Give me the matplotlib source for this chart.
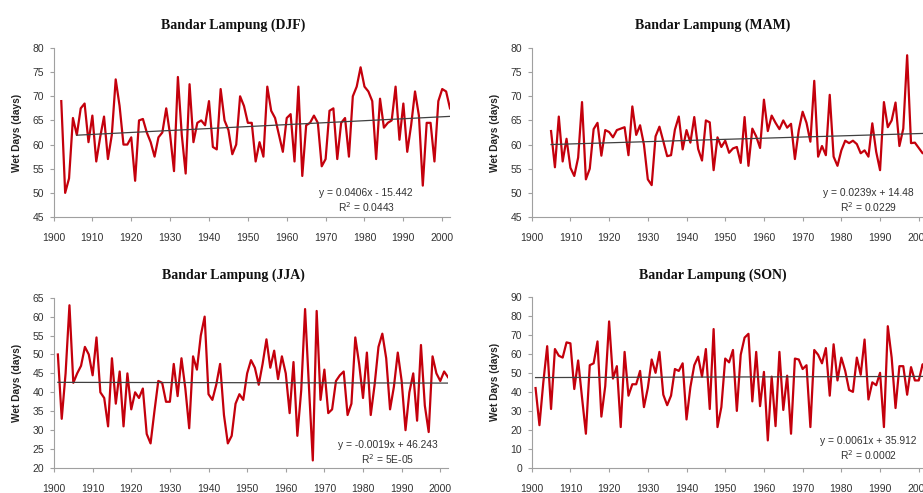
import matplotlib.pyplot as plt
import numpy as np

plt.rcParams.update({'font.family': 'Liberation Sans', 'font.size': 7})

# wet days per season
djf_years = list(range(1902, 2003))
djf_days = [69, 50, 53, 65.5, 62, 67.5, 68.5, 60.5, 66, 56.5,
            61.5, 65.8, 57, 62, 73.5, 68, 60, 60, 61.5, 52.5,
            65, 65.3, 62.5, 60.5, 57.5, 61.5, 62.5, 67.5, 62, 54.5,
            74, 62, 54, 72.5, 60.5, 64.5, 65, 64, 69, 59.5,
            59, 71.5, 65, 63, 58, 60, 70, 68, 64.5, 64.5,
            56.5, 60.5, 57.5, 72, 67, 65.5, 62, 58.5, 65.5, 66.3,
            56.5, 72, 53.5, 64, 64.5, 66, 64.5, 55.5, 57, 67,
            67.5, 57, 64.5, 65.5, 57.5, 70, 72, 76, 72, 71,
            69, 57, 69.5, 63.5, 64.5, 65, 72, 61, 68.5, 58.5,
            64, 71, 66, 51.5, 64.5, 64.5, 56.5, 69, 71.5, 71,
            67.5]

mam_years = list(range(1905, 2003))
mam_days = [62.8, 55.3, 65.8, 56.5, 61.2, 55.2, 53.5, 57.3, 68.8, 52.8,
            55, 63.2, 64.5, 57.7, 63, 62.6, 61.5, 63, 63.3, 63.6,
            57.8, 67.9, 62, 64, 60, 52.8, 51.6, 61.7, 63.7, 60.7,
            57.6, 57.8, 63.1, 65.8, 59, 63, 60.4, 65.7, 59.1, 56.7,
            65, 64.6, 54.7, 61.5, 59.5, 60.8, 58.3, 59.2, 59.5, 56.2,
            65.7, 55.6, 63.3, 61.7, 59.3, 69.3, 62.8, 66, 64.5, 63.2,
            65, 63.5, 64.3, 57, 63, 66.8, 64.5, 60.6, 73.2, 57.5,
            59.7, 57.8, 70.3, 57.5, 55.6, 58.8, 60.8, 60.3, 60.8, 60.1,
            58.2, 58.8, 57.5, 64.4, 58.5, 54.7, 68.8, 63.6, 65, 68.7,
            59.7, 63.3, 78.5, 60.3, 60.4, 59.3, 58.2, 58.5]

jja_years = list(range(1901, 2003))
jja_days = [50, 33, 45, 63, 42.5, 45, 47, 52, 50, 44.5,
            54.5, 40, 38.5, 31, 49, 37, 45.5, 31, 45, 35.5,
            40, 38.5, 41, 29, 26.5, 35, 43, 42.5, 37.5, 37.5,
            47.5, 39, 49, 41, 30.5, 49.5, 46, 55, 60, 39.5,
            38, 42, 47.5, 34, 26.5, 28.5, 37, 39.5, 38, 45,
            48.5, 46.5, 42, 47.5, 54, 46.5, 51, 43.5, 49.5, 45,
            34.5, 48, 28.5, 40.5, 62, 41.5, 22, 61.5, 38, 46,
            34.5, 35.5, 43, 44.5, 45.5, 34, 37, 54.5, 47.5, 38.5,
            50.5, 34, 42, 52, 55.5, 49, 35.5, 41.5, 50.5, 43,
            30, 40, 45, 32.5, 52.5, 36.5, 29.5, 49.5, 45, 43,
            45.5, 44]

son_years = list(range(1901, 2003))
son_days = [42, 22.5, 45, 64, 31, 62.5, 59, 58, 66, 65.5,
            41.5, 56.5, 37, 18, 54, 55, 66.5, 27, 43, 77,
            47, 53.5, 21.5, 61, 38, 44, 44, 51, 32, 42,
            57, 50, 61, 38.5, 33, 38, 52, 51, 55, 25.5,
            42.5, 54, 58.5, 48, 62.5, 31, 73, 21.5, 32, 57.5,
            55.5, 62, 30, 59.5, 68.5, 70.5, 35, 61, 32.5, 50.5,
            14.5, 48, 22, 61, 30.5, 48.5, 18, 57.5, 57, 52,
            54, 21.5, 62, 59.5, 55, 63, 38, 65, 46, 58,
            51, 41, 40, 58, 49, 67.5, 36, 45, 43.5, 50,
            21.5, 74.5, 58, 31.5, 53.5, 53.5, 38.5, 53, 46, 46,
            54.5, 50]

titles = ["Bandar Lampung (DJF)", "Bandar Lampung (MAM)",
          "Bandar Lampung (JJA)", "Bandar Lampung (SON)"]
slopes = [0.0406, 0.0239, -0.0019, 0.0061]
intercepts = [-15.442, 14.48, 46.243, 35.912]
eq_labels = ["y = 0.0406x - 15.442", "y = 0.0239x + 14.48",
             "y = -0.0019x + 46.243", "y = 0.0061x + 35.912"]
r2_labels = ["R$^2$ = 0.0443", "R$^2$ = 0.0229", "R$^2$ = 5E-05", "R$^2$ = 0.0002"]
trend_start = [1906, 1905, 1901, 1901]
ylims = [(45, 80), (45, 80), (20, 65), (0, 90)]
ysteps = [5, 5, 5, 10]

W, H = 923, 493
fig = plt.figure(figsize=(W / 100, H / 100), dpi=100)


def px_axes(x0, ytop, x1, ybot):
    return fig.add_axes([x0 / W, 1 - ybot / H, (x1 - x0) / W, (ybot - ytop) / H])


# pixel boxes: left, top, right, bottom
boxes = [(53.5, 48, 450, 217), (531.7, 48, 926.5, 217),
         (54, 297.7, 448, 468), (531.7, 296.7, 926.5, 468)]
title_pos = [(233, 25), (713, 25), (233, 275), (713, 275)]
eq_pos = [(366, 193, 207), (868, 193, 207), (388, 445, 459), (868, 441, 455)]
ylab_x = [17, 495, 17, 495]

series = [(djf_years, djf_days), (mam_years, mam_days),
          (jja_years, jja_days), (son_years, son_days)]

for i, (yrs, vals) in enumerate(series):
    ax = px_axes(*boxes[i])
    ax.plot(yrs, vals, color='#c4000c', lw=1.6, zorder=3)
    tx = np.array([trend_start[i], yrs[-1]])
    ax.plot(tx, slopes[i] * tx + intercepts[i], color='#404040', lw=0.9, zorder=4)

    ax.set_xlim(1900, 2002)
    ax.set_ylim(*ylims[i])
    ax.set_xticks(range(1900, 2001, 10))
    ax.set_yticks(np.arange(ylims[i][0], ylims[i][1] + 1, ysteps[i]))
    for s in ['top', 'right']:
        ax.spines[s].set_visible(False)
    for s in ['left', 'bottom']:
        ax.spines[s].set_color('#a0a0a0')
        ax.spines[s].set_linewidth(0.8)
    ax.tick_params(colors='#a0a0a0', labelcolor='#333333', length=3,
                   width=0.8, labelsize=7.5)
    ax.tick_params(axis='x', pad=8.5)
    ax.tick_params(axis='y', pad=4)
    ax.patch.set_alpha(0)

    fig.text(title_pos[i][0] / W, 1 - title_pos[i][1] / H, titles[i],
             family='Liberation Serif', weight='bold', size=10,
             ha='center', va='center', color='#111111')
    fig.text(ylab_x[i] / W, 1 - (boxes[i][1] + boxes[i][3]) / 2 / H,
             "Wet Days (days)", rotation=90, weight='bold', size=7.3,
             ha='center', va='center', color='#222222')
    ex, ey1, ey2 = eq_pos[i]
    fig.text(ex / W, 1 - ey1 / H, eq_labels[i], ha='center', va='center',
             size=7.4, color='#333333')
    fig.text(ex / W, 1 - ey2 / H, r2_labels[i], ha='center', va='center',
             size=7.4, color='#333333')

fig.savefig('out.png', dpi=100)
